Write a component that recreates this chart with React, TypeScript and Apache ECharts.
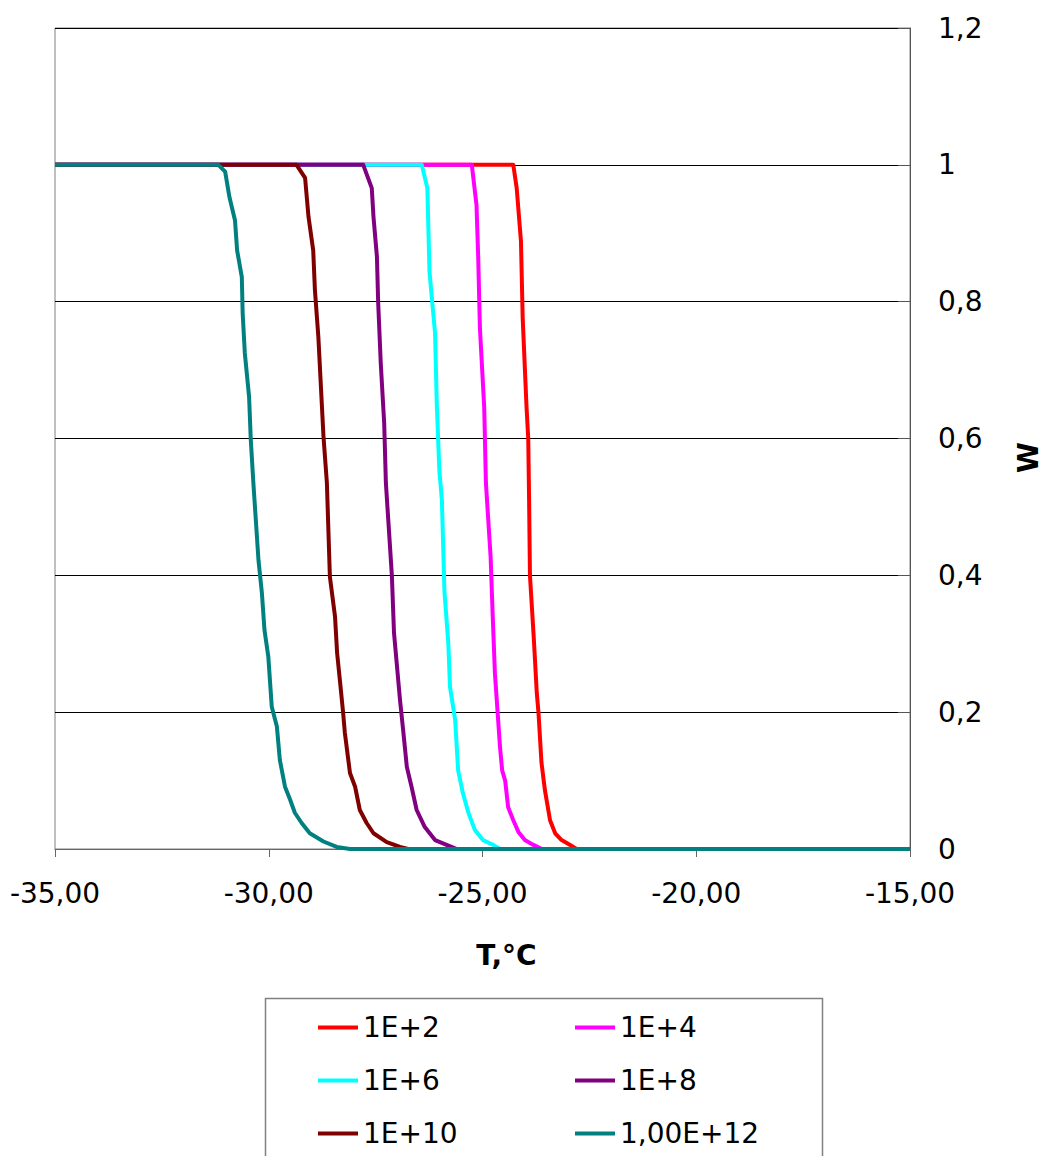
import React, { useEffect, useRef } from "react";
import * as echarts from "echarts";

const seriesNames = ["1E+2", "1E+4", "1E+6", "1E+8", "1E+10", "1,00E+12"];
const seriesColors = ["#FF0000", "#FF00FF", "#00FFFF", "#800080", "#800000", "#008080"];

const t_1E2 = [-35, -24.28, -24.2, -24.1, -24.06, -23.97, -23.93, -23.91, -23.89, -23.8, -23.73, -23.69, -23.62, -23.54, -23.42, -23.3, -23.15, -22.95, -22.8, -15];
const w_1E2 = [1, 1, 0.966, 0.888, 0.776, 0.646, 0.6, 0.51, 0.4, 0.308, 0.228, 0.199, 0.126, 0.086, 0.042, 0.023, 0.013, 0.006, 0, 0];

const t_1E4 = [-35, -25.25, -25.14, -25.1, -25.06, -24.96, -24.92, -24.81, -24.76, -24.71, -24.59, -24.54, -24.47, -24.4, -24.28, -24.16, -24.01, -23.81, -23.61, -15];
const w_1E4 = [1, 1, 0.941, 0.864, 0.761, 0.646, 0.535, 0.427, 0.339, 0.257, 0.149, 0.115, 0.1, 0.061, 0.042, 0.025, 0.013, 0.006, 0, 0];

const t_1E6 = [-35, -26.42, -26.29, -26.24, -26.11, -26.07, -26.01, -25.95, -25.89, -25.8, -25.76, -25.64, -25.57, -25.46, -25.33, -25.18, -24.99, -24.75, -24.59, -15];
const w_1E6 = [1, 1, 0.966, 0.844, 0.754, 0.652, 0.554, 0.51, 0.376, 0.301, 0.237, 0.189, 0.115, 0.082, 0.053, 0.028, 0.013, 0.006, 0, 0];

const t_1E8 = [-35, -27.79, -27.59, -27.55, -27.47, -27.44, -27.38, -27.3, -27.26, -27.12, -27.07, -26.93, -26.85, -26.77, -26.66, -26.54, -26.35, -26.11, -25.84, -25.6, -15];
const w_1E8 = [1, 1, 0.966, 0.924, 0.866, 0.798, 0.71, 0.623, 0.535, 0.4, 0.316, 0.218, 0.17, 0.12, 0.091, 0.057, 0.032, 0.013, 0.006, 0, 0];

const t_1E10 = [-35, -29.35, -29.15, -29.07, -28.96, -28.92, -28.84, -28.78, -28.72, -28.64, -28.57, -28.45, -28.4, -28.33, -28.26, -28.22, -28.1, -27.98, -27.87, -27.71, -27.55, -27.24, -26.93, -26.74, -15];
const w_1E10 = [1, 1, 0.981, 0.924, 0.875, 0.817, 0.749, 0.676, 0.603, 0.535, 0.398, 0.34, 0.286, 0.243, 0.199, 0.17, 0.111, 0.091, 0.057, 0.038, 0.023, 0.01, 0.003, 0, 0];

const t_1E12 = [-35, -31.18, -31.02, -30.92, -30.79, -30.74, -30.63, -30.61, -30.56, -30.46, -30.42, -30.36, -30.24, -30.16, -30.1, -30.01, -29.93, -29.81, -29.74, -29.62, -29.5, -29.39, -29.23, -29.04, -28.72, -28.41, -28.1, -15];
const w_1E12 = [1, 1, 0.99, 0.953, 0.919, 0.875, 0.836, 0.783, 0.725, 0.661, 0.598, 0.535, 0.422, 0.374, 0.32, 0.281, 0.208, 0.179, 0.13, 0.091, 0.072, 0.053, 0.038, 0.023, 0.011, 0.003, 0, 0];

const seriesT = [t_1E2, t_1E4, t_1E6, t_1E8, t_1E10, t_1E12];
const seriesW = [w_1E2, w_1E4, w_1E6, w_1E8, w_1E10, w_1E12];

const xTitle = "T,°C";
const yTitle = "W";

const FONT = "DejaVu Sans";
const W = 1046;
const H = 1156;

export default function App() {
  const ref = useRef<HTMLDivElement>(null);

  useEffect(() => {
    if (!ref.current) return;
    document.body.style.margin = "0";
    document.documentElement.style.overflow = "hidden";
    document.body.style.overflow = "hidden";
    const chart = echarts.init(ref.current, null, { renderer: "svg", width: W, height: H });

    const series = seriesNames.map((name, i) => ({
      name,
      type: "line",
      data: seriesT[i].map((t, j) => [t, seriesW[i][j]]),
      showSymbol: false,
      symbol: "none",
      lineStyle: { color: seriesColors[i], width: 4, join: "round" },
      itemStyle: { color: seriesColors[i] },
      z: 2 + i,
    }));

    const legendCommon = {
      orient: "vertical",
      icon: "rect",
      itemWidth: 40,
      itemHeight: 4,
      itemGap: 22,
      padding: 0,
      textStyle: { fontFamily: FONT, fontSize: 28, color: "#000", lineHeight: 31 },
    };

    chart.setOption({
      animation: false,
      backgroundColor: "#fff",
      textStyle: { fontFamily: FONT },
      grid: {
        left: 55,
        right: 136,
        top: 28,
        bottom: 307,
        containLabel: false,
        outerBoundsMode: "none",
        show: true,
        borderColor: "#808080",
        borderWidth: 1,
        backgroundColor: "transparent",
      },
      xAxis: {
        type: "value",
        min: -35,
        max: -15,
        interval: 5,
        name: xTitle,
        nameLocation: "middle",
        nameGap: 92,
        nameTextStyle: {
          fontFamily: FONT,
          fontSize: 28,
          fontWeight: "bold",
          color: "#000",
          padding: [0, 0, 0, 48],
        },
        axisLine: { show: true, lineStyle: { color: "#666", width: 1 } },
        axisTick: { show: true, length: 8, lineStyle: { color: "#666" } },
        axisLabel: {
          fontFamily: FONT,
          fontSize: 28,
          color: "#000",
          margin: 30,
          formatter: (v: number) => v.toFixed(2).replace(".", ","),
        },
        splitLine: { show: false },
      },
      yAxis: {
        type: "value",
        position: "right",
        min: 0,
        max: 1.2,
        interval: 0.2,
        name: yTitle,
        nameLocation: "middle",
        nameGap: 104,
        nameRotate: 90,
        nameTextStyle: {
          fontFamily: FONT,
          fontSize: 28,
          fontWeight: "bold",
          color: "#000",
          padding: [0, 38, 0, 0],
        },
        axisLine: { show: true, lineStyle: { color: "#555", width: 1 } },
        axisTick: { show: true, inside: true, length: 12, lineStyle: { color: "#555" } },
        axisLabel: {
          fontFamily: FONT,
          fontSize: 28,
          color: "#000",
          margin: 28,
          formatter: (v: number) => String(Math.round(v * 10) / 10).replace(".", ","),
        },
        splitLine: { show: true, lineStyle: { color: "#000", width: 1 } },
      },
      legend: [
        { ...legendCommon, left: 318, top: 1012, data: [seriesNames[0], seriesNames[2], seriesNames[4]] },
        { ...legendCommon, left: 575, top: 1012, data: [seriesNames[1], seriesNames[3], seriesNames[5]] },
      ],
      graphic: [
        {
          type: "rect",
          shape: { x: 265.5, y: 998.5, width: 557, height: 200 },
          style: { fill: "transparent", stroke: "#808080", lineWidth: 1.5 },
          z: -1,
          silent: true,
        },
      ],
      series,
    });

    return () => chart.dispose();
  }, []);

  return (
    <div
      ref={ref}
      style={{ position: "absolute", left: 0, top: 0, width: W, height: H, overflow: "hidden" }}
    />
  );
}
